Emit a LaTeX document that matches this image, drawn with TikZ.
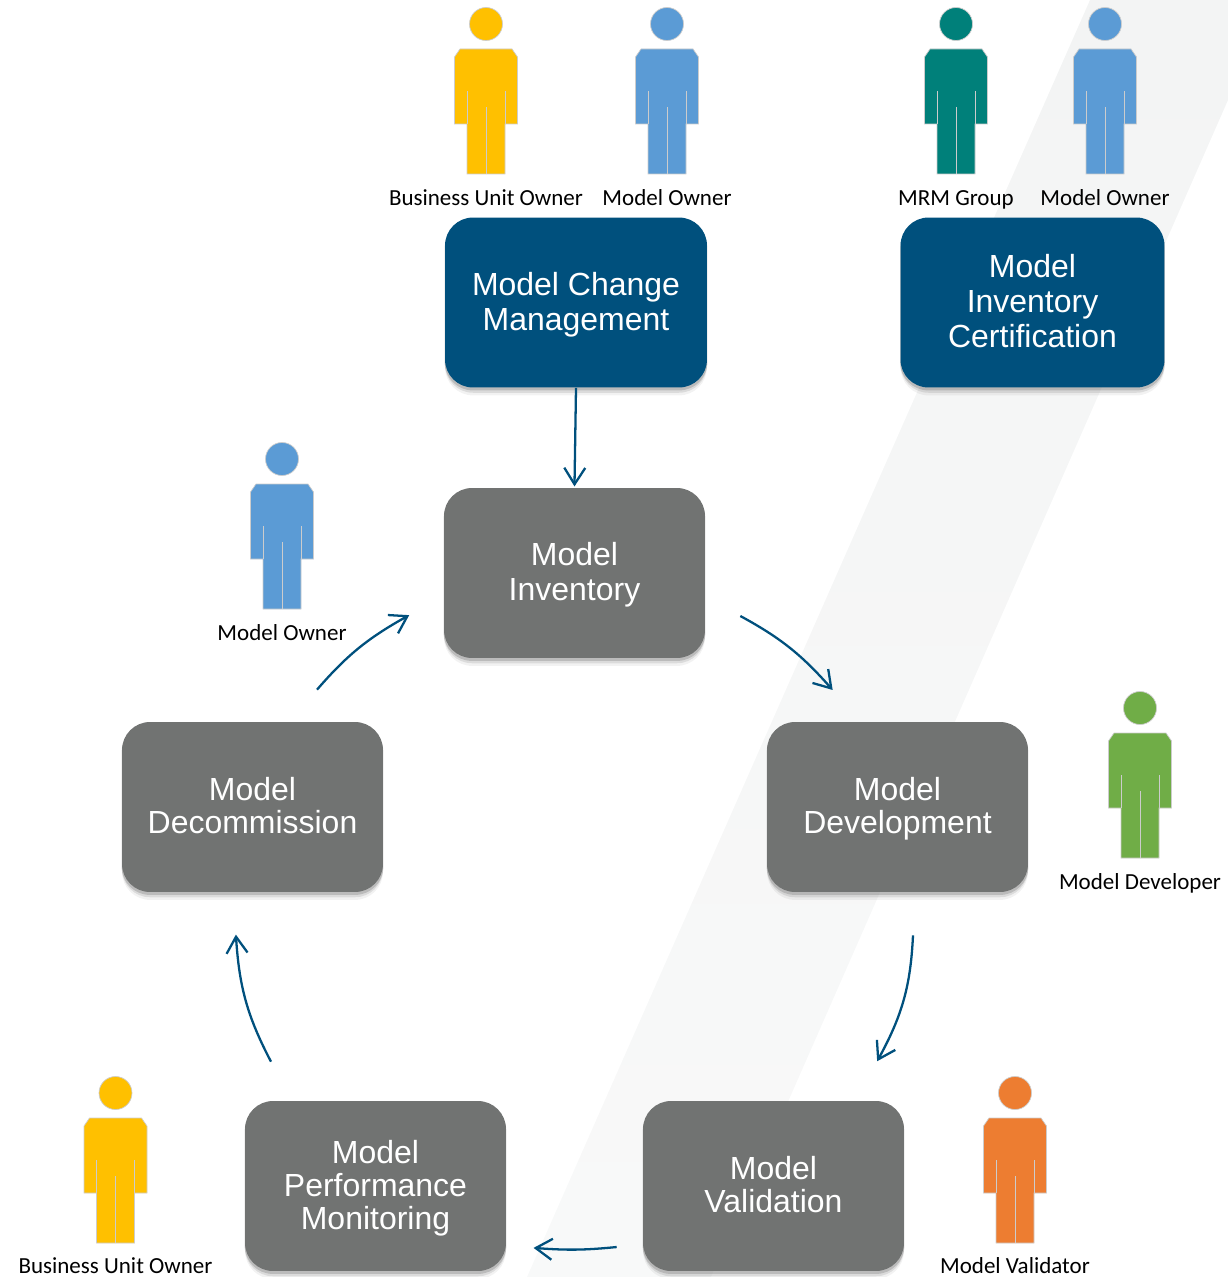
\documentclass[tikz,border=0pt]{standalone}
\usepackage{fontspec}
\setmainfont{Liberation Sans}
\newfontfamily\labelfont{Carlito}
\usetikzlibrary{arrows.meta,shadows}
\definecolor{stepblue}{HTML}{00507D}
\definecolor{stepgray}{HTML}{717372}
\definecolor{bandgray}{HTML}{F3F4F4}
\definecolor{ownerblue}{HTML}{5B9BD5}
\definecolor{unityellow}{HTML}{FFC000}
\definecolor{mrmteal}{HTML}{00807A}
\definecolor{devgreen}{HTML}{70AD47}
\definecolor{valorange}{HTML}{ED7D31}
\tikzset{
  stepbox/.style={rounded corners=0.56cm, minimum width=5.22cm, minimum height=3.4cm, align=center,
    text=white, inner sep=0pt, font=\fontsize{18.2}{18.8}\selectfont, text depth=1.5pt,
    drop shadow={shadow xshift=0pt, shadow yshift=-4.5pt, opacity=0.1},
    drop shadow={shadow xshift=0pt, shadow yshift=-3pt, opacity=0.2},
    drop shadow={shadow xshift=0pt, shadow yshift=-1.5pt, shadow scale=1.003, opacity=0.35}},
  stepwide/.style={stepbox, font=\fontsize{18.2}{19.9}\selectfont},
  flow/.style={-{Straight Barb[length=3.3mm,width=4.2mm]}, line width=1.3pt, stepblue, shorten >=-1pt},
  rolelabel/.style={font=\labelfont\fontsize{13.1}{15}\selectfont, inner sep=0pt, anchor=base}
}
\begin{document}
\begin{tikzpicture}[x=0.02cm, y=-0.02cm]
\useasboundingbox (0,0) rectangle (1228,1277);

% Background band
\shade[top color=bandgray, bottom color=bandgray!55] (1090,0) -- (1228,0) -- (1228,100) -- (711,1277) -- (527,1277) -- cycle;

% Steps
\node[stepwide, fill=stepblue, minimum width=5.24cm] (change) at (576,302.5) {Model Change\\Management};
\node[stepwide, fill=stepblue, minimum width=5.28cm] (certify) at (1032.5,302.5) {Model\\Inventory\\Certification};
\node[stepwide, fill=stepgray] (inventory) at (574.5,573) {Model\\Inventory};
\node[stepbox, fill=stepgray] (development) at (897.5,807) {Model\\Development};
\node[stepbox, fill=stepgray] (validation) at (773.5,1186) {Model\\Validation};
\node[stepbox, fill=stepgray] (monitoring) at (375.5,1186) {Model\\Performance\\Monitoring};
\node[stepbox, fill=stepgray] (decommission) at (252.5,807) {Model\\Decommission};

% Roles
\foreach \name/\px/\py/\ly/\col/\txt in {
  unitA/486/24/181.5/unityellow/Business Unit Owner,
  ownerA/667/24/181.5/ownerblue/Model Owner,
  mrm/956/24/181.5/mrmteal/MRM Group,
  ownerB/1105/24/181.5/ownerblue/Model Owner,
  ownerC/282/459/181.5/ownerblue/Model Owner,
  developer/1140/708/181.5/devgreen/Model Developer,
  validator/1015/1093/180.5/valorange/Model Validator,
  unitB/115.5/1093/180.5/unityellow/Business Unit Owner} {
  \begin{scope}[shift={(\px,\py)}]
    \fill[\col, draw=black!20, line width=0.4pt] (0,0) circle (0.33cm);
    \filldraw[fill=\col, draw=black!20, line width=0.4pt] (-26,25) -- (26,25) -- (31.5,33) -- (31.5,100)
      -- (19,100) -- (19,150) -- (-19,150) -- (-19,100) -- (-31.5,100) -- (-31.5,33) -- cycle;
    \draw[black!20, line width=0.4pt] (-19,67) -- (-19,100) (19,67) -- (19,100) (0,83) -- (0,150);
    \node[rolelabel, text=black] (lab\name) at (0,\ly) {\txt};
  \end{scope}
}

% Flow
\draw[flow] (change.south) -- ([shift={(0,-3)}]inventory.north);
\draw[flow] ([shift={(35,43)}]inventory.east) to[bend left=10] ([shift={(-66,-33)}]development.north);
\draw[flow] ([shift={(15.5,43)}]development.south) to[bend left=13] ([shift={(104.5,-41)}]validation.north);
\draw[flow] ([shift={(-26,61)}]validation.west) to[bend left=5] ([shift={(29,62)}]monitoring.east);
\draw[flow] ([shift={(-104.5,-39)}]monitoring.north) to[bend left=12] ([shift={(-16.5,44)}]decommission.south);
\draw[flow] ([shift={(64.5,-32)}]decommission.north) to[bend left=10] ([shift={(-36,43)}]inventory.west);
\end{tikzpicture}
\end{document}
